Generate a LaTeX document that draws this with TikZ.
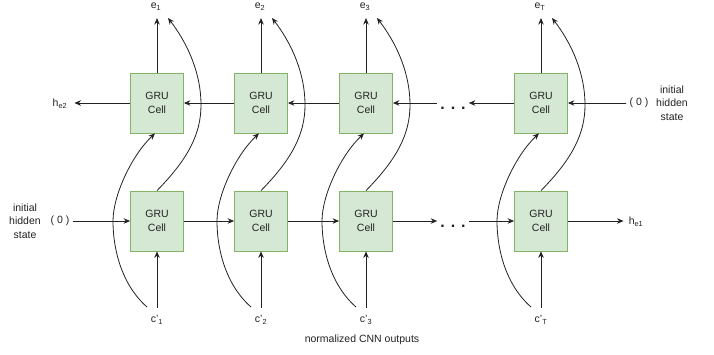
\documentclass[tikz,border=0pt]{standalone}
\usepackage{fontspec}
\setmainfont{Liberation Sans}
\usetikzlibrary{arrows.meta,calc}
\definecolor{grFill}{HTML}{D5E8D4}
\definecolor{grBorder}{HTML}{82B366}
\definecolor{lineC}{HTML}{222222}
\definecolor{txtC}{HTML}{222222}
\begin{document}
\begin{tikzpicture}[x=1pt,y=-1pt,
  font=\fontsize{10.5}{13.5}\selectfont, text=txtC,
  gru/.style={draw=grBorder, fill=grFill, line width=0.8pt, minimum width=53pt, minimum height=60pt, align=center, inner sep=0pt},
  arr/.style={-{Stealth[length=6.5pt,width=5.5pt]}, line width=0.8pt, draw=lineC},
  lbl/.style={inner sep=1pt},
  dots/.style={inner sep=3pt, font=\fontsize{16}{16}\selectfont\bfseries},
]
\useasboundingbox (0,0) rectangle (714,354);

\foreach \i/\cx/\s in {1/157/1,2/261/2,3/366/3,4/541/T}{
  \node[gru] (t\i) at (\cx,103) {GRU\\Cell};
  \node[gru] (b\i) at (\cx,221) {GRU\\Cell};
  \node[lbl, anchor=base] (e\i) at (\cx-1,8.5) {e\textsubscript{\s}};
  \node[lbl, anchor=base] (c\i) at (\cx,322.5) {c'\textsubscript{\s}};
  \coordinate (ea\i) at (\cx,18);
  \coordinate (eb\i) at (\cx+11,18);
  \coordinate (cs\i) at (\cx,308);
  \coordinate (cc\i) at (\cx-10,307);
  % straight output of backward cell
  \draw[arr] (t\i.north) -- (ea\i);
  % straight input to forward cell
  \draw[arr] (cs\i) -- (b\i.south);
  % curved input to backward cell
  \draw[arr] (cc\i) .. controls (\cx-35,285) and (\cx-44,250) .. (\cx-44,221)
     .. controls (\cx-44,195) and (\cx-25,155) .. ($(t\i.south)+(-2,0)$);
  % curved output of forward cell
  \draw[arr] (b\i.north) .. controls (\cx+30,160) and (\cx+44,135) .. (\cx+44,105)
     .. controls (\cx+44,70) and (\cx+28,40) .. (eb\i);
}

% top row (backward)
\node[lbl] (he2) at (60,104) {h\textsubscript{e2}};
\node[lbl] (z0t) at (639,103) {( 0 )};
\node[lbl, align=center] (ihst) at (672,103) {initial\\hidden\\state};
\node[dots] (dt) at (453,108) {. . .};
\draw[arr] (t1.west) -- ($(he2.east)+(6,-1)$);
\draw[arr] (t2.west) -- (t1.east);
\draw[arr] (t3.west) -- (t2.east);
\draw[arr] (dt.west |- t3.west) -- (t3.east);
\draw[arr] (t4.west) -- (dt.east |- t4.west);
\draw[arr] ($(z0t.west)+(-2,0)$) -- (t4.east);

% bottom row (forward)
\node[lbl, align=center] (ihsb) at (25,221) {initial\\hidden\\state};
\node[lbl] (z0b) at (60,221) {( 0 )};
\node[lbl] (he1) at (636,222) {h\textsubscript{e1}};
\node[dots] (db) at (453,226) {. . .};
\draw[arr] ($(z0b.east)+(2,0)$) -- (b1.west);
\draw[arr] (b1.east) -- (b2.west);
\draw[arr] (b2.east) -- (b3.west);
\draw[arr] (b3.east) -- (db.west |- b3.east);
\draw[arr] (db.east |- b4.west) -- (b4.west);
\draw[arr] (b4.east) -- ($(he1.west)+(-4,-1)$);

\node[lbl] (cnn) at (362,340) {normalized CNN outputs};
\end{tikzpicture}
\end{document}
